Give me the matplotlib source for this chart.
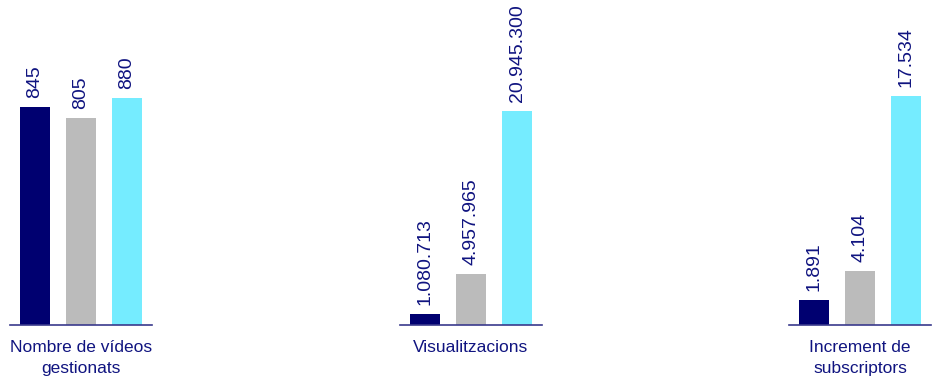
import matplotlib
matplotlib.use("Agg")
import matplotlib.pyplot as plt

# data
categories = ["Nombre de vídeos\ngestionats", "Visualitzacions", "Increment de\nsubscriptors"]
videos = [845, 805, 880]
views = [1080713, 4957965, 20945300]
subscribers = [1891, 4104, 17534]
series_colors = ["#000070", "#BBBBBB", "#75ECFF"]

text_color = "#101480"
line_color = "#3A3A8C"

plt.rcParams["font.family"] = ["Liberation Sans", "DejaVu Sans"]


def fmt(v):
    return f"{v:,}".replace(",", ".")


fig = plt.figure(figsize=(9.32, 3.77), dpi=100)

# (values, axes left in px, headroom factor)
panels = [
    (videos, 10, 1.434),
    (views, 400, 1.519),
    (subscribers, 789, 1.417),
]

for (values, left_px, head), label in zip(panels, categories):
    ax = fig.add_axes([left_px / 932, 52 / 377, 142 / 932, 325 / 377])
    x = range(len(values))
    bars = ax.bar(x, values, width=0.65, color=series_colors)
    ax.set_xlim(-0.54, 2.54)
    ax.set_ylim(0, max(values) * head)
    for s in ["top", "left", "right"]:
        ax.spines[s].set_visible(False)
    ax.spines["bottom"].set_color(line_color)
    ax.spines["bottom"].set_linewidth(1.2)
    ax.set_xticks([])
    ax.set_yticks([])
    ax.patch.set_alpha(0)

    for b, v in zip(bars, values):
        ax.annotate(fmt(v), (b.get_x() + b.get_width() / 2, v),
                    xytext=(0, 6.5), textcoords="offset points",
                    rotation=90, ha="center", va="bottom",
                    fontsize=14, color=text_color)

    ax.annotate(label, (0.5, 0), xycoords="axes fraction",
                xytext=(0, -11), textcoords="offset points",
                ha="center", va="top", fontsize=12.5,
                color=text_color, linespacing=1.45)

fig.savefig("out.png", dpi=100)
